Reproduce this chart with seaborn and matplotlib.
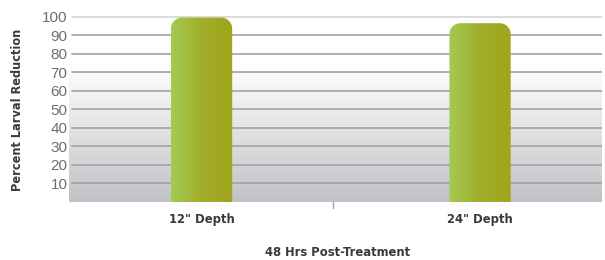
import numpy as np
import pandas as pd
import matplotlib
matplotlib.use("Agg")
import matplotlib.pyplot as plt
import seaborn as sns
from matplotlib.path import Path
from matplotlib.patches import PathPatch
from matplotlib.colors import LinearSegmentedColormap
from matplotlib import font_manager as fm

categories = ['12" Depth', '24" Depth']
values = [99.5, 96.5]
yticks = [10, 20, 30, 40, 50, 60, 70, 80, 90, 100]
ylabel = "Percent Larval Reduction"
xlabel = "48 Hrs Post-Treatment"

sns.set_theme(style="white")
plt.rcParams['font.family'] = ['Liberation Sans', 'DejaVu Sans']

# condensed bold font if present
cond = None
for f in fm.fontManager.ttflist:
    if f.name in ("Liberation Sans Narrow",) and f.weight in (700, "bold"):
        cond = f.fname
        break
if cond is None:
    for f in fm.fontManager.ttflist:
        if f.name == "DejaVu Sans" and "condensed" in str(f.stretch).lower() and f.weight in (700, "bold"):
            cond = f.fname
            break
if cond is not None:
    bold_fp = lambda s: fm.FontProperties(fname=cond, size=s)
else:
    bold_fp = lambda s: fm.FontProperties(family="Liberation Sans", weight="bold", size=s)

df = pd.DataFrame({"cat": categories, "val": values})

fig = plt.figure(figsize=(6.05, 2.6), dpi=100)
ax = fig.add_axes([69/605, 1 - 202/260, (602-69)/605, (202-0)/260])

sns.barplot(data=df, x="cat", y="val", ax=ax, width=0.22, color="#a5c548", zorder=3)

ymax = 202 / 1.853
XL = (-0.476, 1.438)
ax.set_ylim(0, ymax)
ax.set_xlim(*XL)

# background gradient
bg_cmap = LinearSegmentedColormap.from_list(
    "bg", [(0, "#c1c2c5"), (0.35, "#e1e2e4"), (0.64, "#fbfbfb"), (0.68, "#ffffff"), (1, "#ffffff")])
grad = np.linspace(0, 1, 256).reshape(-1, 1)
ax.imshow(grad, aspect="auto", cmap=bg_cmap, origin="lower",
          extent=(XL[0], XL[1], 0, ymax), zorder=0)

# gridlines
for t in yticks:
    c = "#d4d4d4" if t == 100 else "#a3a3a3"
    ax.axhline(t, xmin=3/533, xmax=1, color=c, lw=1.2, zorder=1)

# replace bars with rounded-top gradient bars
bar_cmap = LinearSegmentedColormap.from_list("bar", ["#a3cb52", "#a2ad2a", "#9fa61a"])
hgrad = np.linspace(0, 1, 256).reshape(1, -1)
px_x = 533 / (XL[1] - XL[0])
px_y = 1.853
rx = 11 / px_x
ry = 11 / px_y
for p in list(ax.patches):
    x0, w, h = p.get_x(), p.get_width(), p.get_height()
    p.set_visible(False)
    x1 = x0 + w
    verts = [(x0, 0), (x0, h - ry)]
    th = np.linspace(np.pi, np.pi / 2, 20)
    verts += [(x0 + rx + rx * np.cos(t), h - ry + ry * np.sin(t)) for t in th]
    th = np.linspace(np.pi / 2, 0, 20)
    verts += [(x1 - rx + rx * np.cos(t), h - ry + ry * np.sin(t)) for t in th]
    verts += [(x1, 0), (x0, 0)]
    path = Path(verts, closed=True)
    pp = PathPatch(path, facecolor="none", edgecolor="none", transform=ax.transData)
    ax.add_patch(pp)
    im = ax.imshow(hgrad, aspect="auto", cmap=bar_cmap,
                   extent=(x0, x1, 0, h), zorder=4)
    im.set_clip_path(pp)

ax.set_xlim(*XL)
ax.set_ylim(0, ymax)

ax.set_yticks(yticks)
ax.set_yticklabels([str(t) for t in yticks], color="#6e6e6e", fontsize=11)
ax.tick_params(axis="y", length=0, pad=1)
ax.set_xticks([0, 1])
ax.set_xticklabels(categories, color="#3a3a3a", fontproperties=bold_fp(9.3))
ax.tick_params(axis="x", length=0, pad=8)
ax.axvline(0.472, ymin=-0.03, ymax=0, color="#a0a0a0", lw=1, clip_on=False)

ax.set_ylabel("")
fig.text(18/605, 1 - 110/260, ylabel, ha="center", va="center", rotation=90,
         color="#3a3a3a", fontproperties=bold_fp(9.1))
ax.set_xlabel("")
fig.text(338/605, 1 - 252/260, xlabel, ha="center", va="center",
         color="#3a3a3a", fontproperties=bold_fp(9.3))

for s in ax.spines.values():
    s.set_visible(False)
ax.grid(False)

fig.savefig("out.png", dpi=100, facecolor="white")
